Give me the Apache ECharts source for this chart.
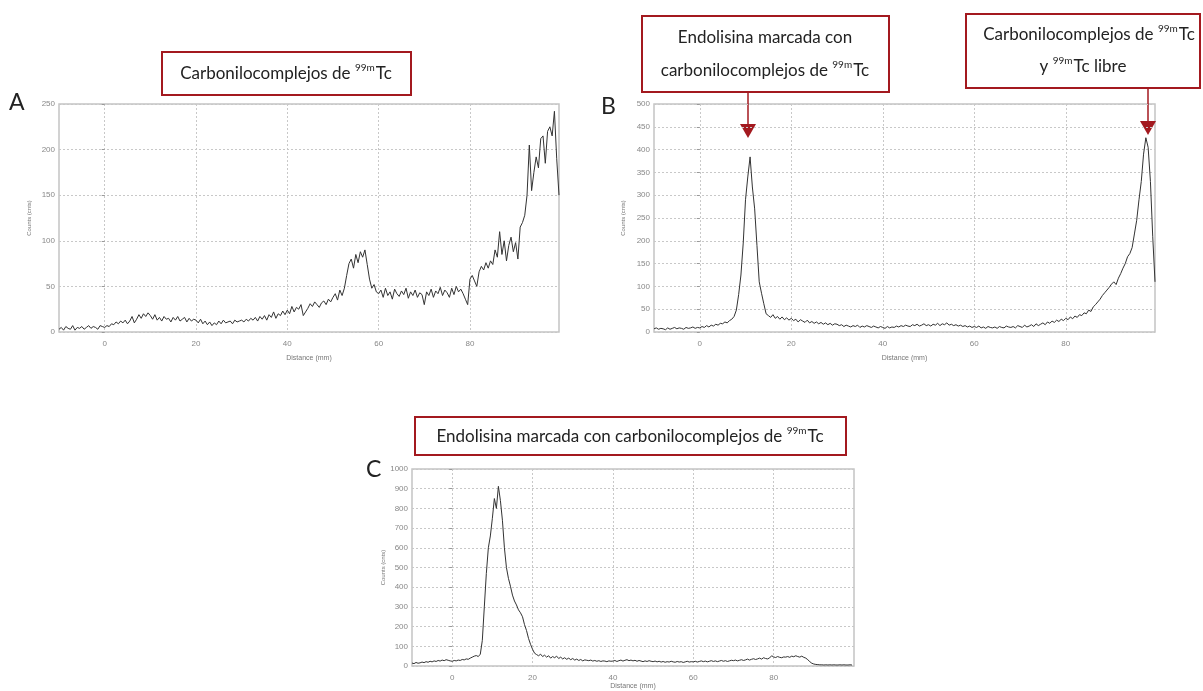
<!DOCTYPE html>
<html>
<head>
<meta charset="utf-8">
<script src="https://cdn.jsdelivr.net/npm/echarts@6/dist/echarts.min.js"></script>
<style>
html,body{margin:0;padding:0;background:#fff;}
#chart{width:1203px;height:691px;}
</style>
</head>
<body>
<div id="chart"></div>
<script>
// Distance sampling (mm)
const DIST_START = -10;
const DIST_STEP = 0.5;
const xTickValues = [0, 20, 40, 60, 80];

// Panel A: Carbonilocomplejos de 99mTc (counts)
const countsA = [
  3,5,2,6,4,3,7,2,5,4,6,3,5,7,4,6,5,3,7,6,
  5,7,6,9,8,11,9,12,10,13,9,12,17,10,14,19,15,20,17,21,
  18,14,19,13,16,12,17,14,15,11,16,13,17,12,14,16,11,15,12,14,
  13,10,14,9,12,8,11,7,10,8,12,9,13,10,11,12,9,13,11,12,
  13,11,14,12,15,13,16,12,17,14,18,13,19,16,22,15,20,18,23,19,
  24,20,28,22,27,25,30,18,22,26,31,28,33,30,27,32,34,30,36,33,
  38,42,35,46,40,48,62,75,80,70,85,76,88,82,90,74,58,48,52,44,
  42,46,38,48,40,44,36,47,42,39,45,41,48,37,44,40,46,38,43,41,
  30,44,40,47,38,45,42,49,40,46,43,38,48,41,50,44,47,42,36,30,
  58,62,56,50,66,72,68,76,70,78,74,90,82,110,85,100,78,95,104,88,
  98,80,115,120,128,150,205,155,175,192,180,212,215,185,220,225,215,242,190,150
];

// Panel B: Endolisina marcada + carbonilocomplejos / 99mTc libre (counts)
const countsB = [
  7,9,6,8,7,5,9,6,8,10,7,9,8,6,10,8,9,11,8,10,
  9,12,10,14,11,15,13,17,15,19,18,22,20,25,28,34,48,82,125,195,
  290,340,384,318,270,190,110,85,62,40,36,32,38,30,34,28,33,27,31,26,
  30,25,28,22,27,24,21,26,20,23,19,22,18,21,17,20,16,19,15,18,
  17,14,16,12,15,13,11,14,12,15,10,13,11,14,12,10,13,11,9,12,
  10,8,12,9,11,10,13,11,14,12,15,13,12,16,14,17,13,15,18,14,
  16,13,17,15,19,14,18,16,20,15,17,14,16,13,15,12,14,11,13,10,
  12,10,13,9,11,8,12,10,9,11,8,12,10,9,13,11,10,12,9,14,
  12,10,15,11,13,16,12,18,14,17,20,16,22,19,24,21,26,23,28,25,
  30,27,33,29,35,32,38,36,42,40,48,45,55,60,66,72,80,86,92,98,
  105,110,104,118,128,140,150,165,172,185,215,245,290,330,390,426,405,330,210,110
];

// Panel C: Endolisina marcada con carbonilocomplejos de 99mTc (counts)
const countsC = [
  15,12,18,14,16,20,17,22,19,24,21,26,23,28,25,30,27,32,29,26,
  24,28,26,30,28,33,31,36,34,40,45,50,53,48,60,130,300,470,600,660,
  750,850,800,912,840,740,600,500,445,405,360,330,310,285,270,250,210,180,140,110,
  85,65,58,52,60,48,55,45,52,40,48,42,50,38,45,36,42,34,40,32,
  38,30,35,28,33,26,31,29,27,30,25,28,24,27,23,26,25,22,26,24,
  25,28,23,27,30,25,29,32,27,30,26,29,24,28,25,22,26,23,27,24,
  22,25,21,24,20,23,19,22,20,24,21,19,23,20,22,18,21,24,20,22,
  21,24,20,23,26,22,25,21,24,27,23,26,22,25,28,24,27,23,26,29,
  27,30,26,29,32,28,31,35,30,34,37,33,36,40,35,42,38,36,41,52,
  46,43,48,44,42,46,45,48,44,50,47,52,48,45,50,44,40,32,22,14,
  10,8,7,6,6,5,6,5,6,5,6,5,5,6,5,6,5,5,6,5
];

function toPairs(arr) {
  return arr.map((v, i) => [DIST_START + i * DIST_STEP, v]);
}

const RED = '#a3191f';
const axisFont = 'Liberation Sans, Arial, sans-serif';
const boxFont = 'Lato, "Open Sans", sans-serif';

function mkX(idx, max, gap) {
  return {
    type: 'value', gridIndex: idx, min: -10, max: max,
    name: 'Distance (mm)', nameLocation: 'middle', nameGap: gap,
    nameTextStyle: { fontSize: 7, color: '#777', fontFamily: axisFont },
    axisLine: { show: false },
    axisTick: { show: false, customValues: xTickValues },
    axisLabel: { customValues: xTickValues, fontSize: 8, color: '#888', margin: 8, fontFamily: axisFont },
    splitLine: { show: true, lineStyle: { color: '#c8c8c8', type: [2, 2], width: 1 } }
  };
}
function mkY(idx, max, interval, gap) {
  return {
    type: 'value', gridIndex: idx, min: 0, max: max, interval: interval,
    name: 'Counts (cnts)', nameLocation: 'middle', nameGap: gap, nameRotate: 90,
    nameTextStyle: { fontSize: 6, color: '#777', fontFamily: axisFont },
    axisLine: { show: false },
    axisTick: { show: true, length: 3, lineStyle: { color: '#999' } },
    axisLabel: { fontSize: 8, color: '#888', margin: 4, fontFamily: axisFont, formatter: (v) => String(v) },
    splitLine: { show: true, lineStyle: { color: '#c8c8c8', type: [2, 2], width: 1 } }
  };
}
function mkLine(idx, arr) {
  return {
    type: 'line', xAxisIndex: idx, yAxisIndex: idx,
    data: toPairs(arr), showSymbol: false, symbol: 'none',
    lineStyle: { color: '#333', width: 1 }, silent: true, animation: false
  };
}

function boxText(cx, cy, parts) {
  return {
    type: 'text', x: cx, y: cy,
    style: {
      text: parts,
      align: 'center', verticalAlign: 'middle',
      rich: {
        a: { fontSize: 17, fontFamily: boxFont, fill: '#222', lineHeight: 22 },
        s: { fontSize: 10, fontFamily: boxFont, fill: '#222', lineHeight: 22, verticalAlign: 'top', padding: [0, 1, 0, 0] }
      }
    }
  };
}
function rect(x, y, w, h) {
  return { type: 'rect', shape: { x: x, y: y, width: w, height: h },
    style: { fill: '#fff', stroke: RED, lineWidth: 2 } };
}
function arrow(x, y1, y2) {
  return [
    { type: 'line', shape: { x1: x, y1: y1, x2: x, y2: y2 - 10 }, style: { stroke: RED, lineWidth: 1.5 } },
    { type: 'polygon', shape: { points: [[x - 8, y2 - 14], [x + 8, y2 - 14], [x, y2]] }, style: { fill: RED } }
  ];
}
function letter(x, y, t) {
  return { type: 'text', x: x, y: y, style: { text: t, fontSize: 23, fontFamily: boxFont, fill: '#222', align: 'left', verticalAlign: 'middle' } };
}

const chart = echarts.init(document.getElementById('chart'), null, { renderer: 'canvas' });
chart.setOption({
  animation: false,
  backgroundColor: '#fff',
  grid: [
    { left: 59, top: 104, width: 500, height: 228, show: true, borderColor: '#c4c4c4', borderWidth: 1.5, backgroundColor: '#fff' },
    { left: 654, top: 104, width: 501, height: 228, show: true, borderColor: '#c4c4c4', borderWidth: 1.5, backgroundColor: '#fff' },
    { left: 412, top: 469, width: 442, height: 201, show: true, borderColor: '#c4c4c4', borderWidth: 1.5, backgroundColor: '#fff' }
  ],
  xAxis: [mkX(0, 99.5, 23), mkX(1, 99.5, 23), mkX(2, 100, 17)],
  yAxis: [mkY(0, 250, 50, 27), mkY(1, 500, 50, 28), mkY(2, 1000, 100, 25)],
  series: [mkLine(0, countsA), mkLine(1, countsB), mkLine(2, countsC)],
  graphic: [
    letter(9, 103, 'A'),
    letter(601, 107, 'B'),
    letter(366, 470, 'C'),
    rect(162, 52, 249, 43),
    boxText(286, 74, '{a|Carbonilocomplejos de }{s|99m}{a|Tc}'),
    rect(642, 16, 247, 76),
    boxText(765, 38, '{a|Endolisina marcada con}'),
    boxText(765, 71, '{a|carbonilocomplejos de }{s|99m}{a|Tc}'),
    rect(966, 14, 234, 74),
    boxText(1089, 35, '{a|Carbonilocomplejos de }{s|99m}{a|Tc}'),
    boxText(1083, 67, '{a|y }{s|99m}{a|Tc libre}'),
    ...arrow(748, 93, 138),
    ...arrow(1148, 89, 135),
    rect(415, 417, 431, 38),
    boxText(630, 437, '{a|Endolisina marcada con carbonilocomplejos de }{s|99m}{a|Tc}')
  ]
});
</script>
</body>
</html>
